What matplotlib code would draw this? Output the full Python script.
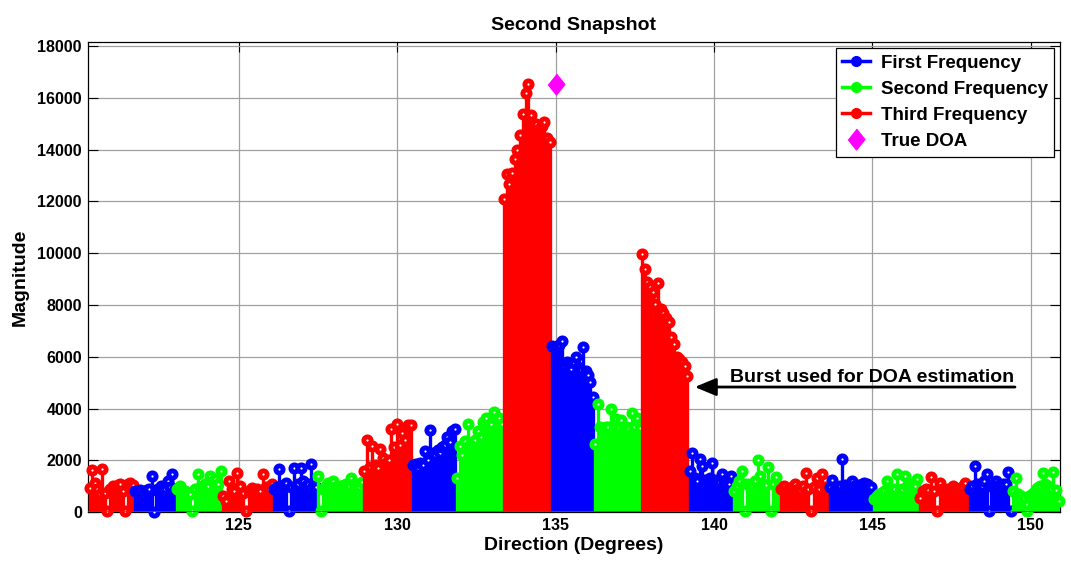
import numpy as np
import matplotlib.pyplot as plt
from matplotlib.lines import Line2D
from matplotlib.legend_handler import HandlerLine2D

plt.rcParams['font.family'] = ['Liberation Sans', 'DejaVu Sans']
plt.rcParams['font.weight'] = 'bold'

# burst boundaries along the scan (degrees)
burst_edges = [120.25, 121.69, 123.01, 124.46, 126.07, 127.46, 128.91, 130.46,
               131.85, 133.33, 134.85, 136.21, 137.69, 139.20, 140.59, 142.08,
               143.62, 145.01, 146.46, 148.04, 149.40, 150.92]

# which frequency each burst belongs to (1 = first, 2 = second, 3 = third)
burst_freq = [3, 1, 2] * 7

# stem magnitudes inside each burst
burst_mags = [
    [940, 1615, 1135, 900, 700, 1650, 750, 30, 900, 1000, 950, 1050, 1080, 800, 30, 1100, 1135, 1050],
    [800, 750, 850, 700, 800, 850, 900, 1395, 20, 850, 900, 1000, 850, 900, 1200, 950, 1460, 900],
    [900, 1000, 850, 800, 750, 700, 30, 900, 1460, 950, 1000, 1100, 1000, 1395, 1150, 1280, 1100, 1590],
    [600, 430, 1200, 900, 800, 1525, 1000, 750, 30, 800, 940, 850, 900, 800, 1460, 950, 900, 1100],
    [900, 950, 1650, 1000, 1050, 1135, 30, 950, 1720, 1000, 1100, 1720, 1200, 1000, 1100, 1850, 1000, 950],
    [1400, 30, 900, 1000, 1135, 1000, 1200, 950, 900, 1000, 1050, 1100, 1000, 1330, 1100, 1000, 950, 1150],
    [1590, 2790, 1750, 2560, 1800, 1700, 2430, 2100, 1900, 2000, 3200, 2500, 3400, 2600, 3070, 2800, 3370, 3350],
    [1800, 1850, 1700, 1900, 1800, 2340, 2000, 3165, 2300, 2200, 2400, 2300, 2500, 2600, 2880, 2700, 3140, 3200],
    [1330, 2560, 2200, 2750, 3420, 2600, 2700, 2800, 3140, 2900, 3460, 3650, 3300, 3400, 3850, 3600, 3650, 3400],
    [12090, 13050, 12670, 13100, 13640, 14000, 14570, 15380, 16200, 16530, 15340, 14900, 15000, 14800, 14900, 15080, 14450, 14300],
    [6400, 6350, 6400, 6450, 6600, 5650, 5800, 5700, 5530, 5750, 6000, 5600, 5500, 6370, 5460, 5300, 5010, 4450],
    [2620, 4170, 3300, 3250, 3300, 3300, 3980, 3300, 3590, 3300, 3550, 3280, 3300, 3250, 3810, 3300, 3630, 3250],
    [9960, 9400, 8880, 8700, 8500, 8050, 8860, 7830, 7700, 7500, 7330, 6780, 6500, 6000, 5900, 5800, 5650, 5270],
    [1600, 2300, 1300, 1200, 2050, 1780, 1250, 1200, 1300, 1910, 1250, 1200, 1150, 1460, 1200, 1150, 1100, 1400],
    [810, 1000, 1200, 1590, 30, 1100, 1000, 1050, 1200, 2000, 1400, 1100, 1050, 1740, 30, 1100, 1360, 1000],
    [900, 1000, 850, 900, 950, 1070, 900, 850, 1000, 1520, 900, 30, 950, 1330, 900, 1460, 950, 900],
    [950, 1230, 900, 890, 1000, 2040, 1050, 1000, 1100, 1200, 1000, 1050, 1000, 1100, 1135, 1100, 1000, 950],
    [490, 600, 700, 750, 800, 1200, 750, 810, 900, 1460, 800, 900, 1395, 1000, 950, 1100, 1000, 1280],
    [560, 800, 900, 850, 1360, 800, 40, 1135, 900, 850, 900, 850, 1000, 900, 850, 950, 1135, 800],
    [900, 1000, 1780, 1100, 1050, 1000, 1200, 1460, 30, 1000, 1100, 1200, 1050, 1000, 1070, 1100, 1560, 30],
    [810, 1300, 700, 600, 550, 30, 600, 700, 800, 920, 1000, 1520, 1100, 1000, 900, 1550, 840, 430],
]

true_doa = 135.0
true_mag = 16550

freq_colors = {1: '#0000ff', 2: '#00ff00', 3: '#ff0000'}
freq_names = {1: 'First Frequency', 2: 'Second Frequency', 3: 'Third Frequency'}


class HandlerStem(HandlerLine2D):
    # legend entry like matlab's stem: line with the marker at its right end
    def __init__(self, frac=1.0, **kw):
        super().__init__(**kw)
        self.frac = frac

    def get_xdata(self, legend, xdescent, ydescent, width, height, fontsize):
        xdata = np.array([-xdescent, -xdescent + width])
        return xdata, np.array([-xdescent + self.frac * width])


fig = plt.figure(figsize=(10.71, 5.61), dpi=100)
ax = fig.add_axes([0.0817, 0.0873, 0.9080, 0.8373])

for k, mags in enumerate(burst_mags):
    lo, hi = burst_edges[k], burst_edges[k + 1]
    ang = np.linspace(lo + 0.04, hi - 0.04, len(mags))
    c = freq_colors[burst_freq[k]]
    ml, sl, bl = ax.stem(ang, mags, linefmt='-', markerfmt='o', basefmt=' ')
    plt.setp(sl, color=c, linewidth=2.4, zorder=3)
    plt.setp(ml, color=c, markerfacecolor='white', markeredgecolor=c,
             markersize=5.2, markeredgewidth=3.5, zorder=3, clip_on=False)
    bl.set_visible(False)

ax.axhline(0, color='#7a4a1e', linewidth=1.2, zorder=4)

diamond = [(0, 1), (0.8, 0), (0, -1), (-0.8, 0)]
ax.plot([true_doa], [true_mag], linestyle='none', marker=diamond,
        markersize=15, color='#ff00ff', zorder=5)

ax.set_xlim(120.22, 150.92)
ax.set_ylim(0, 18150)
ax.set_xticks(np.arange(125, 151, 5))
ax.set_yticks(np.arange(0, 18001, 2000))
ax.grid(True, color='#a0a0a0', linewidth=0.9)
ax.set_axisbelow(True)
ax.tick_params(direction='in', length=7, width=0.8, top=True, right=True,
               labelsize=11.5, pad=4)
for lab in ax.get_xticklabels() + ax.get_yticklabels():
    lab.set_fontweight('bold')
for s in ax.spines.values():
    s.set_linewidth(0.9)

ax.set_title('Second Snapshot', fontsize=14, fontweight='bold', pad=9)
ax.set_xlabel('Direction (Degrees)', fontsize=14, fontweight='bold', labelpad=3)
ax.set_ylabel('Magnitude', fontsize=14, fontweight='bold', labelpad=6)

ax.annotate('', xy=(139.39, 4830), xytext=(149.5, 4830),
            arrowprops=dict(arrowstyle='-|>,head_length=0.65,head_width=0.27',
                            mutation_scale=20, lw=2, color='black',
                            shrinkA=0, shrinkB=0), zorder=6)
ax.text(140.5, 5040, 'Burst used for DOA estimation', fontsize=14,
        fontweight='bold', va='baseline', ha='left', zorder=6)

handles = []
for f in (1, 2, 3):
    handles.append(Line2D([0, 1], [0, 0], color=freq_colors[f], linewidth=2.5,
                          marker='o', markersize=7))
doa_handle = Line2D([0], [0], linestyle='none', marker=diamond, markersize=15,
                    color='#ff00ff')
handles.append(doa_handle)
labels = [freq_names[f] for f in (1, 2, 3)] + ['True DOA']
hmap = {h: HandlerStem() for h in handles[:3]}
hmap[doa_handle] = HandlerStem(frac=0.78)
leg = ax.legend(handles, labels, loc='upper right', fontsize=13.5,
                handler_map=hmap, handlelength=1.5, handletextpad=0.55,
                borderpad=0.35, borderaxespad=0.3, labelspacing=0.48,
                fancybox=False, framealpha=1, edgecolor='black')
leg.get_frame().set_linewidth(0.9)
for t in leg.get_texts():
    t.set_fontweight('bold')

fig.savefig('out.png', dpi=100)
